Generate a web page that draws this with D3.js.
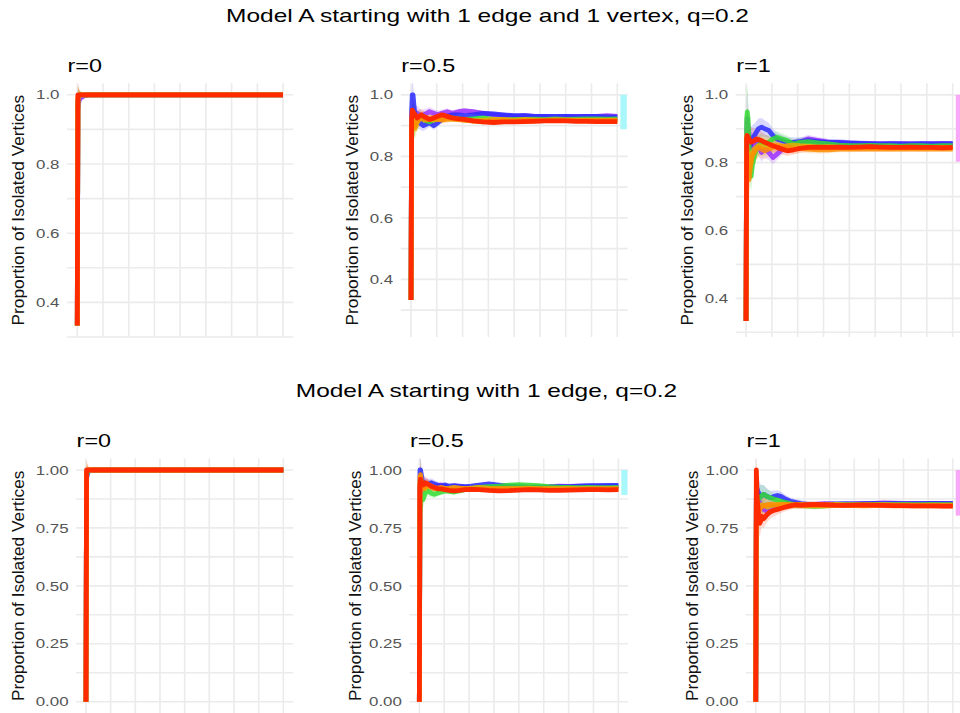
<!DOCTYPE html>
<html><head><meta charset="utf-8">
<script src="https://cdn.jsdelivr.net/npm/d3@7"></script>
<style>body{margin:0;background:#fff}svg{display:block}text{font-family:"Liberation Sans",Arial,Helvetica,sans-serif}</style>
</head><body><svg id="c" width="960" height="713"></svg>
<script>
// ---------- data ----------
const xSteps = [0,3,6,10,15, 20,25,30,40,50, 60,75,90,110,130, 150,175,200,230,260, 300,350,400,450,500, 550,600,650,700,750, 800,850,900,950,1000];
const seriesNames = ["purple","blue","green","gold","orange","red"];
const seriesColors = ["#9a30ff","#2b2bff","#33dd33","#e6b000","#ff8c00","#ff2a00"];
const rowTitles = ["Model A starting with 1 edge and 1 vertex, q=0.2","Model A starting with 1 edge, q=0.2"];
const panelTitles = ["r=0","r=0.5","r=1"];
const yTicksTop = [0.4,0.6,0.8,1.0];
const yTickLabelsTop = ["0.4","0.6","0.8","1.0"];
const yMinorTop = [0.3,0.5,0.7,0.9];
const yTicksBottom = [0,0.25,0.5,0.75,1.0];
const yTickLabelsBottom = ["0.00","0.25","0.50","0.75","1.00"];
const yMinorBottom = [0.125,0.375,0.625,0.875];
const xMajor = [0,250,500,750,1000];
const xMinor = [125,375,625,875];
const yTitle = "Proportion of Isolated Vertices";

// series values per panel (order = seriesNames)
const top_r0 = [
 [0.333,0.96,0.975,0.985,0.99, 0.992,0.994,0.996,0.998,0.999, 1,1,1,1,1, 1,1,1,1,1, 1,1,1,1,1, 1,1,1,1,1, 1,1,1,1,1],
 [0.333,0.98,0.99,0.995,0.998, 1,1,1,1,1, 1,1,1,1,1, 1,1,1,1,1, 1,1,1,1,1, 1,1,1,1,1, 1,1,1,1,1],
 [0.333,0.985,0.995,0.998,1, 1,1,1,1,1, 1,1,1,1,1, 1,1,1,1,1, 1,1,1,1,1, 1,1,1,1,1, 1,1,1,1,1],
 [0.333,0.99,0.997,1,1, 1,1,1,1,1, 1,1,1,1,1, 1,1,1,1,1, 1,1,1,1,1, 1,1,1,1,1, 1,1,1,1,1],
 [0.333,0.99,0.998,1,1, 1,1,1,1,1, 1,1,1,1,1, 1,1,1,1,1, 1,1,1,1,1, 1,1,1,1,1, 1,1,1,1,1],
 [0.333,1,1,1,1, 1,1,1,1,1, 1,1,1,1,1, 1,1,1,1,1, 1,1,1,1,1, 1,1,1,1,1, 1,1,1,1,1]
];
const top_r05 = [
 [0.333,0.90,0.93,0.94,0.935, 0.93,0.935,0.94,0.935,0.93, 0.935,0.94,0.945,0.94,0.935, 0.94,0.945,0.94,0.945,0.948, 0.945,0.94,0.935,0.932,0.93, 0.932,0.93,0.93,0.928,0.93, 0.93,0.93,0.93,0.932,0.93],
 [0.333,0.95,1.0,1.0,0.96, 0.93,0.92,0.915,0.91,0.905, 0.90,0.905,0.91,0.90,0.91, 0.92,0.93,0.935,0.935,0.932, 0.935,0.94,0.938,0.935,0.932, 0.932,0.93,0.93,0.93,0.93, 0.929,0.93,0.93,0.928,0.928],
 [0.333,0.85,0.90,0.93,0.94, 0.92,0.91,0.92,0.93,0.925, 0.92,0.915,0.912,0.92,0.925, 0.93,0.928,0.925,0.922,0.92, 0.922,0.925,0.92,0.918,0.92, 0.92,0.921,0.92,0.922,0.92, 0.921,0.922,0.922,0.921,0.922],
 [0.333,0.88,0.93,0.92,0.90, 0.89,0.90,0.91,0.92,0.925, 0.93,0.925,0.92,0.918,0.92, 0.922,0.925,0.922,0.92,0.918, 0.915,0.918,0.92,0.92,0.918, 0.92,0.918,0.918,0.919,0.918, 0.918,0.918,0.918,0.918,0.918],
 [0.333,0.90,0.92,0.91,0.895, 0.90,0.91,0.915,0.92,0.925, 0.92,0.918,0.92,0.925,0.92, 0.918,0.92,0.922,0.92,0.918, 0.915,0.912,0.915,0.916,0.915, 0.916,0.917,0.916,0.917,0.918, 0.917,0.917,0.916,0.917,0.917],
 [0.333,0.92,0.95,0.945,0.94, 0.935,0.93,0.925,0.93,0.935, 0.93,0.925,0.92,0.925,0.93, 0.935,0.93,0.925,0.922,0.92, 0.915,0.912,0.91,0.912,0.912, 0.913,0.914,0.915,0.915,0.915, 0.914,0.914,0.913,0.913,0.913]
];
const top_r1 = [
 [0.333,0.90,0.93,0.90,0.88, 0.86,0.85,0.84,0.85,0.86, 0.85,0.83,0.84,0.83,0.815, 0.825,0.84,0.845,0.855,0.86, 0.87,0.865,0.86,0.858,0.857, 0.856,0.856,0.855,0.855,0.856, 0.855,0.855,0.856,0.856,0.855],
 [0.333,0.85,0.88,0.87,0.86, 0.85,0.86,0.87,0.88,0.89, 0.90,0.905,0.90,0.895,0.88, 0.87,0.865,0.86,0.86,0.862, 0.865,0.862,0.86,0.86,0.858, 0.857,0.856,0.855,0.856,0.855, 0.855,0.856,0.855,0.856,0.856],
 [0.333,0.93,0.95,0.93,0.85, 0.78,0.76,0.79,0.82,0.84, 0.85,0.86,0.855,0.86,0.87, 0.875,0.87,0.865,0.855,0.86, 0.862,0.858,0.855,0.852,0.85, 0.85,0.851,0.85,0.85,0.849, 0.85,0.85,0.849,0.85,0.85],
 [0.333,0.86,0.83,0.80,0.78, 0.80,0.82,0.83,0.84,0.845, 0.85,0.848,0.845,0.85,0.852, 0.85,0.848,0.85,0.852,0.85, 0.848,0.846,0.847,0.846,0.845, 0.846,0.845,0.845,0.846,0.845, 0.845,0.844,0.845,0.845,0.845],
 [0.333,0.88,0.80,0.76,0.75, 0.78,0.80,0.82,0.83,0.84, 0.845,0.84,0.835,0.84,0.845, 0.85,0.848,0.845,0.84,0.842, 0.84,0.838,0.838,0.84,0.84, 0.84,0.841,0.84,0.84,0.84, 0.841,0.84,0.84,0.84,0.84],
 [0.333,0.87,0.88,0.875,0.87, 0.865,0.86,0.862,0.865,0.87, 0.868,0.865,0.86,0.855,0.85, 0.845,0.84,0.835,0.838,0.842, 0.845,0.846,0.845,0.846,0.845, 0.846,0.847,0.846,0.845,0.845, 0.846,0.845,0.845,0.844,0.845]
];
const bottom_r0 = [
 [0,0.97,0.985,0.99,0.995, 0.997,0.998,0.999,1,1, 1,1,1,1,1, 1,1,1,1,1, 1,1,1,1,1, 1,1,1,1,1, 1,1,1,1,1],
 [0,0.96,0.98,0.99,0.995, 0.998,1,1,1,1, 1,1,1,1,1, 1,1,1,1,1, 1,1,1,1,1, 1,1,1,1,1, 1,1,1,1,1],
 [0,0.97,0.985,0.99,0.995, 0.998,1,1,1,1, 1,1,1,1,1, 1,1,1,1,1, 1,1,1,1,1, 1,1,1,1,1, 1,1,1,1,1],
 [0,0.99,0.995,1,1, 1,1,1,1,1, 1,1,1,1,1, 1,1,1,1,1, 1,1,1,1,1, 1,1,1,1,1, 1,1,1,1,1],
 [0,0.99,0.997,1,1, 1,1,1,1,1, 1,1,1,1,1, 1,1,1,1,1, 1,1,1,1,1, 1,1,1,1,1, 1,1,1,1,1],
 [0,1,1,1,1, 1,1,1,1,1, 1,1,1,1,1, 1,1,1,1,1, 1,1,1,1,1, 1,1,1,1,1, 1,1,1,1,1]
];
const bottom_r05 = [
 [0,0.90,0.96,0.95,0.94, 0.935,0.93,0.935,0.94,0.935, 0.93,0.925,0.93,0.935,0.93, 0.925,0.93,0.928,0.925,0.922, 0.92,0.922,0.925,0.926,0.925, 0.926,0.927,0.928,0.93,0.929, 0.93,0.93,0.931,0.93,0.93],
 [0,1.0,1.0,0.98,0.95, 0.94,0.945,0.94,0.935,0.94, 0.945,0.94,0.935,0.93,0.935, 0.93,0.932,0.93,0.928,0.93, 0.935,0.94,0.935,0.93,0.928, 0.926,0.925,0.926,0.928,0.928, 0.93,0.932,0.932,0.933,0.933],
 [0,0.82,0.86,0.88,0.87, 0.875,0.89,0.90,0.91,0.905, 0.90,0.895,0.90,0.905,0.91, 0.908,0.905,0.91,0.915,0.92, 0.925,0.928,0.93,0.935,0.937, 0.935,0.932,0.928,0.926,0.925, 0.924,0.925,0.924,0.924,0.925],
 [0,0.95,0.97,0.94,0.92, 0.93,0.925,0.92,0.93,0.935, 0.93,0.925,0.92,0.918,0.92, 0.922,0.925,0.922,0.92,0.922, 0.925,0.922,0.92,0.92,0.921, 0.922,0.92,0.92,0.92,0.921, 0.92,0.92,0.92,0.92,0.92],
 [0,0.97,0.98,0.95,0.93, 0.92,0.925,0.93,0.935,0.93, 0.925,0.92,0.922,0.925,0.92, 0.918,0.92,0.922,0.92,0.918, 0.917,0.918,0.92,0.919,0.918, 0.918,0.919,0.918,0.918,0.918, 0.917,0.918,0.918,0.918,0.918],
 [0,0.93,0.96,0.95,0.94, 0.935,0.94,0.945,0.94,0.935, 0.93,0.925,0.92,0.918,0.915, 0.912,0.91,0.912,0.915,0.916, 0.915,0.912,0.91,0.911,0.913, 0.915,0.914,0.912,0.912,0.913, 0.914,0.915,0.915,0.914,0.915]
];
const bottom_r1 = [
 [0,0.88,0.90,0.89,0.87, 0.86,0.85,0.84,0.83,0.825, 0.83,0.835,0.84,0.845,0.848, 0.85,0.852,0.85,0.848,0.85, 0.852,0.855,0.853,0.852,0.854, 0.855,0.856,0.858,0.857,0.856, 0.856,0.855,0.856,0.855,0.855],
 [0,0.90,0.92,0.91,0.90, 0.89,0.885,0.89,0.895,0.89, 0.885,0.88,0.885,0.89,0.885, 0.875,0.865,0.86,0.855,0.852, 0.85,0.852,0.854,0.855,0.854, 0.855,0.856,0.855,0.856,0.855, 0.855,0.856,0.856,0.856,0.856],
 [0,0.86,0.88,0.87,0.875, 0.88,0.885,0.89,0.895,0.89, 0.885,0.88,0.875,0.87,0.865, 0.86,0.855,0.85,0.848,0.845, 0.843,0.845,0.848,0.85,0.85, 0.852,0.851,0.85,0.85,0.851, 0.85,0.85,0.851,0.85,0.85],
 [0,0.84,0.83,0.82,0.83, 0.84,0.845,0.85,0.848,0.845, 0.84,0.845,0.848,0.85,0.852, 0.85,0.848,0.85,0.852,0.85, 0.848,0.85,0.852,0.85,0.849, 0.848,0.849,0.85,0.849,0.848, 0.848,0.848,0.848,0.848,0.848],
 [0,0.85,0.84,0.83,0.82, 0.83,0.835,0.84,0.845,0.848, 0.85,0.852,0.85,0.848,0.85, 0.852,0.85,0.848,0.846,0.845, 0.846,0.845,0.846,0.847,0.846, 0.845,0.846,0.846,0.845,0.846, 0.845,0.845,0.846,0.845,0.845],
 [0,1.0,0.90,0.85,0.80, 0.77,0.78,0.80,0.79,0.80, 0.81,0.82,0.825,0.83,0.835, 0.84,0.845,0.85,0.848,0.85, 0.852,0.85,0.848,0.847,0.848, 0.849,0.848,0.847,0.846,0.846, 0.845,0.845,0.845,0.844,0.844]
];
// ribbon half-widths per panel
const band_top_r0 = [0,0.04,0.025,0.015,0.01, 0.007,0.005,0.004,0.003,0.002, 0.001,0,0,0,0, 0,0,0,0,0, 0,0,0,0,0, 0,0,0,0,0, 0,0,0,0,0];
const band_top_r05 = [0,0.06,0.05,0.04,0.035, 0.03,0.028,0.025,0.022,0.02, 0.018,0.016,0.015,0.014,0.013, 0.012,0.011,0.01,0.0095,0.009, 0.0085,0.008,0.0075,0.007,0.0068, 0.0065,0.0062,0.006,0.0058,0.0056, 0.0054,0.0052,0.005,0.0049,0.0048];
const band_top_r1 = [0,0.09,0.08,0.07,0.06, 0.05,0.045,0.04,0.035,0.032, 0.03,0.027,0.025,0.022,0.02, 0.018,0.016,0.015,0.014,0.013, 0.012,0.011,0.01,0.0095,0.009, 0.0085,0.008,0.0078,0.0075,0.0072, 0.007,0.0068,0.0066,0.0064,0.0062];
const band_bottom_r0 = [0,0.05,0.03,0.02,0.01, 0.006,0.004,0.002,0.001,0, 0,0,0,0,0, 0,0,0,0,0, 0,0,0,0,0, 0,0,0,0,0, 0,0,0,0,0];
const band_bottom_r05 = [0,0.08,0.06,0.05,0.04, 0.035,0.03,0.027,0.024,0.021, 0.019,0.017,0.015,0.014,0.013, 0.012,0.011,0.01,0.0095,0.009, 0.0085,0.008,0.0075,0.007,0.0068, 0.0065,0.0062,0.006,0.0058,0.0056, 0.0054,0.0052,0.005,0.0049,0.0048];
const band_bottom_r1 = [0,0.1,0.09,0.08,0.07, 0.06,0.05,0.045,0.04,0.035, 0.032,0.029,0.026,0.023,0.02, 0.018,0.016,0.015,0.014,0.013, 0.012,0.011,0.01,0.0095,0.009, 0.0085,0.008,0.0078,0.0075,0.0072, 0.007,0.0068,0.0066,0.0064,0.0062];
// limit band (lo, hi) at right edge of each panel; null = none
const limitLo = [null,0.888,0.803,null,0.892,0.803];
const limitHi = [null,1.0,1.0,null,1.0,1.0];
const limitColors = [null,"#a8f8fb","#f8a8f6",null,"#a8f8fb","#f8a8f6"];
const limitX = [1015,1046];

// ---------- layout ----------
const xDomain = [-50,1050];
const yDomains = [[0.3,1.0333],[0.2125,1.0375],[0.286,1.034],[-0.05,1.05],[-0.05,1.05],[-0.05,1.05]];
const panelBoxes = [
 {l:67.0,r:293.3,t:83.3,b:337},{l:400.7,r:627.6,t:83.3,b:337},{l:735.7,r:963.0,t:83.3,b:337},
 {l:76.1,r:293.2,t:458.4,b:713.3},{l:409.4,r:628.3,t:458.4,b:713.3},{l:745.9,r:962.6,t:458.4,b:713.3}
];
const panelData = [top_r0,top_r05,top_r1,bottom_r0,bottom_r05,bottom_r1];
const panelBands = [band_top_r0,band_top_r05,band_top_r1,band_bottom_r0,band_bottom_r05,band_bottom_r1];
const SX = 1.3; // horizontal text stretch of the reference

const svg = d3.select("#c");
svg.append("rect").attr("width",960).attr("height",713).attr("fill","#fff");

function stretchedText(g, x, y, txt, size, anchor, sx, color){
  g.append("g").attr("transform",`translate(${x},${y}) scale(${sx},1)`)
   .append("text").attr("text-anchor",anchor).attr("font-size",size).attr("fill",color).text(txt);
}
// row titles
stretchedText(svg, 487.5, 21.5, rowTitles[0], 18, "middle", 1.36, "#000");
stretchedText(svg, 486.5, 396.5, rowTitles[1], 18, "middle", 1.36, "#000");

panelBoxes.forEach((b,i)=>{
  const row = i<3?0:1, col = i%3;
  const x = d3.scaleLinear().domain(xDomain).range([b.l,b.r]);
  const y = d3.scaleLinear().domain(yDomains[i]).range([b.b,b.t]);
  const g = svg.append("g");
  const cid = "clip"+i;
  svg.append("clipPath").attr("id",cid).append("rect")
     .attr("x",b.l).attr("y",b.t).attr("width",b.r-b.l).attr("height",b.b-b.t);
  // grid
  const grid = g.append("g").attr("stroke","#ebebeb").attr("stroke-width",1.6);
  const yMin = row===0?yMinorTop:yMinorBottom, yMaj = row===0?yTicksTop:yTicksBottom;
  yMin.concat(yMaj).filter(v=>v>=yDomains[i][0]&&v<=yDomains[i][1]).forEach(v=>{
    grid.append("line").attr("x1",b.l).attr("x2",b.r).attr("y1",y(v)).attr("y2",y(v));
  });
  xMinor.concat(xMajor).forEach(v=>{
    grid.append("line").attr("x1",x(v)).attr("x2",x(v)).attr("y1",b.t).attr("y2",b.b);
  });
  // y axis labels
  const labels = row===0?yTickLabelsTop:yTickLabelsBottom;
  const ax = d3.axisLeft(y).tickValues(yMaj).tickSize(0).tickPadding(7.5/SX)
     .tickFormat((d,k)=>labels[k]);
  const axg = g.append("g").attr("transform",`translate(${b.l},0)`).call(ax);
  axg.select(".domain").remove();
  axg.selectAll("text").attr("font-size",13).attr("fill","#555")
     .attr("font-family","'Liberation Sans',Arial,sans-serif")
     .attr("transform",`scale(${SX},1)`);
  // y title
  const tx = b.l - (row===0?43:(col===0?52:48));
  svg.append("text").attr("transform",`translate(${tx},${(b.t+b.b)/2}) rotate(-90)`)
     .attr("text-anchor","middle").attr("font-size",17.3).attr("fill","#111").text(yTitle);
  // panel title
  stretchedText(svg, b.l+0.5, row===0?71.7:447, panelTitles[col], 18, "start", 1.3, "#000");
  // series
  const pg = g.append("g").attr("clip-path",`url(#${cid})`);
  if(limitLo[i]!==null){
    pg.append("rect").attr("x",x(limitX[0])).attr("width",x(limitX[1])-x(limitX[0]))
      .attr("y",y(limitHi[i])).attr("height",y(limitLo[i])-y(limitHi[i])).attr("fill",limitColors[i]);
  }
  const vals = panelData[i], band = panelBands[i];
  const area = d3.area().x((d,k)=>x(xSteps[k])).y0((d,k)=>y(d-band[k])).y1((d,k)=>y(d+band[k])).curve(d3.curveLinear);
  const line = d3.line().x((d,k)=>x(xSteps[k])).y(d=>y(d));
  vals.forEach((s,si)=>{
    pg.append("path").attr("d",area(s)).attr("fill",seriesColors[si]).attr("fill-opacity",0.18);
  });
  vals.forEach((s,si)=>{
    pg.append("path").attr("d",line(s)).attr("fill","none").attr("stroke",seriesColors[si])
      .attr("stroke-width",4.8).attr("stroke-opacity",si===vals.length-1?1:0.85).attr("stroke-linejoin","round");
  });
});
</script></body></html>
